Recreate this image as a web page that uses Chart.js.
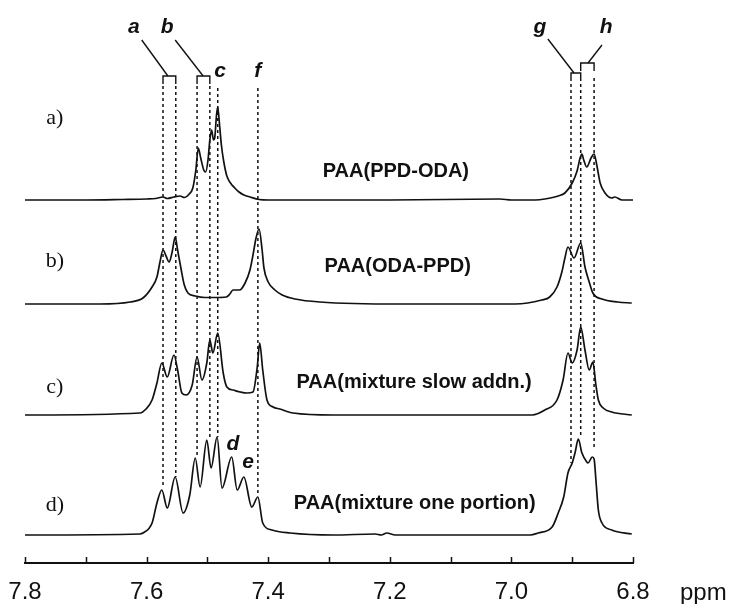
<!DOCTYPE html>
<html>
<head>
<meta charset="utf-8">
<script src="https://cdn.jsdelivr.net/npm/chart.js@4.4.0/dist/chart.umd.min.js"></script>
<style>
  html, body { margin: 0; padding: 0; background: #fff; }
</style>
</head>
<body>
<canvas id="nmr" width="729" height="604"></canvas>
<script>
// 1H NMR spectra, aromatic region (ppm vs. intensity)
const ppmA = [7.800, 7.700, 7.640, 7.600, 7.585, 7.573, 7.566, 7.555, 7.545, 7.538, 7.530, 7.524, 7.519, 7.515, 7.511, 7.506, 7.503, 7.499, 7.496, 7.493, 7.490, 7.488, 7.485, 7.483, 7.480, 7.477, 7.473, 7.468, 7.462, 7.455, 7.448, 7.440, 7.430, 7.415, 7.400, 7.200, 7.019, 7.000, 6.960, 6.945, 6.923, 6.912, 6.900, 6.892, 6.887, 6.884, 6.881, 6.876, 6.869, 6.864, 6.859, 6.854, 6.846, 6.835, 6.830, 6.818, 6.800];
const intA = [0, 0, 0.5, 1, 1.5, 3, 1.5, 3, 4, 2.5, 6, 12, 30, 52, 42, 30, 28, 40, 60, 70, 60, 62, 85, 93, 75, 55, 38, 24, 17, 12, 8, 5, 3, 0.5, 0, 0, 1, 0, 0, 1, 4, 7, 17, 29, 42, 46, 40, 33, 42, 46, 33, 17, 7, 2, 3, 0, 0];

const ppmB = [7.800, 7.677, 7.627, 7.606, 7.591, 7.583, 7.578, 7.573, 7.568, 7.563, 7.558, 7.553, 7.549, 7.543, 7.538, 7.532, 7.520, 7.504, 7.487, 7.469, 7.463, 7.458, 7.447, 7.438, 7.430, 7.425, 7.420, 7.415, 7.410, 7.407, 7.400, 7.389, 7.377, 7.356, 7.315, 7.183, 7.019, 6.994, 6.950, 6.937, 6.925, 6.917, 6.912, 6.907, 6.897, 6.886, 6.879, 6.872, 6.866, 6.851, 6.825, 6.802];
const intB = [0, 0, 2, 6, 17, 27, 42, 54, 48, 42, 52, 67, 54, 34, 19, 11, 8, 6.5, 6.5, 7, 10, 14, 14, 21, 34, 49, 66, 75, 54, 36, 22, 14, 9, 5, 2, 0, 0, 0, 4, 7, 17, 32, 46, 57, 46, 61, 37, 22, 11, 5, 2, 1];

const ppmC = [7.800, 7.611, 7.601, 7.591, 7.583, 7.575, 7.566, 7.555, 7.549, 7.542, 7.535, 7.525, 7.517, 7.509, 7.501, 7.496, 7.491, 7.483, 7.474, 7.468, 7.458, 7.446, 7.435, 7.425, 7.418, 7.414, 7.409, 7.402, 7.392, 7.381, 7.359, 7.293, 7.019, 6.966, 6.945, 6.925, 6.915, 6.907, 6.900, 6.892, 6.886, 6.879, 6.872, 6.866, 6.861, 6.857, 6.849, 6.835, 6.802];
const intC = [0, 2, 6, 15, 32, 52, 38, 60, 45, 22, 20, 30, 58, 35, 52, 75, 62, 82, 42, 28, 25, 23, 22, 23, 48, 72, 45, 15, 8, 6, 2, 0, 0, 0, 5, 15, 35, 62, 52, 65, 88, 65, 45, 53, 30, 15, 7, 3, 0];

const ppmD = [7.800, 7.611, 7.606, 7.591, 7.583, 7.575, 7.566, 7.553, 7.540, 7.529, 7.520, 7.512, 7.501, 7.494, 7.484, 7.476, 7.460, 7.451, 7.440, 7.427, 7.417, 7.409, 7.394, 7.364, 7.293, 7.224, 7.214, 7.205, 7.191, 6.969, 6.956, 6.933, 6.923, 6.914, 6.907, 6.900, 6.895, 6.890, 6.884, 6.876, 6.874, 6.867, 6.864, 6.861, 6.857, 6.851, 6.835, 6.802];
const intD = [0, 1, 2, 12, 32, 45, 27, 58, 22, 40, 77, 48, 95, 67, 98, 47, 78, 45, 58, 28, 38, 12, 5, 2, 0, 1, 0, 2, 0, 0, 2, 8, 22, 38, 62, 72, 83, 96, 82, 73, 72, 78, 76, 55, 25, 12, 5, 1];

const seriesTags = ['a)', 'b)', 'c)', 'd)'];
const seriesNames = ['PAA(PPD-ODA)', 'PAA(ODA-PPD)', 'PAA(mixture slow addn.)', 'PAA(mixture one portion)'];

// assignment guides (ppm) and the peak letters
const guidePpm = [7.573, 7.552, 7.517, 7.496, 7.483, 7.417, 6.902, 6.886, 6.864];
const peakTags = ['a', 'b', 'c', 'f', 'g', 'h', 'd', 'e'];

// layout: vertical stacking of the four traces, guide extents, label spots
const stackOffset = [363, 259, 148, 28];
const guideTop = [477, 477, 477, 477, 475, 475, 479, 479, 485];
const guideBottom = [75, 86, 105, 125, 126, 68, 100, 125, 113];
const brackets = [
  { from: 7.573, to: 7.552, top: 487, lead: [7.608, 523, 7.565, 487] },
  { from: 7.517, to: 7.496, top: 487, lead: [7.553, 523, 7.507, 487] },
  { from: 6.902, to: 6.886, top: 490, lead: [6.940, 524, 6.897, 490] },
  { from: 6.886, to: 6.864, top: 500, lead: [6.851, 518, 6.874, 500] },
];
const tagSpots = [[7.621, 530], [7.566, 530], [7.479, 486], [7.417, 486], [6.953, 530], [6.844, 530], [7.458, 113], [7.433, 95]];
const seriesTagSpots = [445, 302, 176, 58];
const nameSpots = [[7.190, 392], [7.187, 297], [7.160, 181], [7.159, 60]];

const SANS = '"Liberation Sans", Arial, sans-serif';
const INK = '#111';

const traces = [[ppmA, intA], [ppmB, intB], [ppmC, intC], [ppmD, intD]];

const datasets = traces.map(([ppm, inten], i) => ({
  data: ppm.map((p, k) => ({ x: p, y: stackOffset[i] + inten[k] })),
  borderColor: INK,
  borderWidth: 1.7,
  pointRadius: 0,
  cubicInterpolationMode: 'monotone',
  fill: false,
}));

guidePpm.forEach((p, i) => {
  datasets.push({
    data: [{ x: p, y: guideTop[i] }, { x: p, y: guideBottom[i] }],
    borderColor: INK,
    borderWidth: 1.5,
    borderDash: [3, 3],
    pointRadius: 0,
    fill: false,
  });
});

const annotate = {
  id: 'annotate',
  afterDraw(chart) {
    const { ctx } = chart;
    const xs = chart.scales.x;
    const ys = chart.scales.y;
    const X = (v) => xs.getPixelForValue(v);
    const Y = (v) => ys.getPixelForValue(v);
    ctx.save();
    ctx.strokeStyle = INK;
    ctx.fillStyle = INK;

    // axis ticks pointing up
    ctx.lineWidth = 1.5;
    xs.ticks.forEach((t) => {
      const px = Math.round(X(t.value)) + 0.5;
      ctx.beginPath();
      ctx.moveTo(px, xs.top);
      ctx.lineTo(px, xs.top - 6);
      ctx.stroke();
    });

    // brackets and leader lines
    ctx.lineWidth = 1.4;
    brackets.forEach((b) => {
      const top = Y(b.top);
      ctx.beginPath();
      ctx.moveTo(X(b.from), top + 8);
      ctx.lineTo(X(b.from), top);
      ctx.lineTo(X(b.to), top);
      ctx.lineTo(X(b.to), top + 8);
      ctx.stroke();
      ctx.beginPath();
      ctx.moveTo(X(b.lead[0]), Y(b.lead[1]));
      ctx.lineTo(X(b.lead[2]), Y(b.lead[3]));
      ctx.stroke();
    });

    // peak letters
    ctx.font = 'italic bold 21px ' + SANS;
    ctx.textAlign = 'center';
    ctx.textBaseline = 'alphabetic';
    peakTags.forEach((t, i) => {
      ctx.fillText(t, X(tagSpots[i][0]), Y(tagSpots[i][1]));
    });

    // trace labels
    ctx.textBaseline = 'middle';
    ctx.font = '22px "Liberation Serif", "Times New Roman", serif';
    seriesTags.forEach((t, i) => {
      ctx.fillText(t, X(7.751), Y(seriesTagSpots[i]));
    });
    ctx.font = 'bold 20px ' + SANS;
    seriesNames.forEach((t, i) => {
      ctx.fillText(t, X(nameSpots[i][0]), Y(nameSpots[i][1]));
    });

    // unit
    ctx.font = '24px ' + SANS;
    ctx.textAlign = 'left';
    ctx.textBaseline = 'alphabetic';
    ctx.fillText('ppm', xs.right + 47, 600);
    ctx.restore();
  },
};

new Chart(document.getElementById('nmr'), {
  type: 'line',
  data: { datasets: datasets },
  options: {
    responsive: false,
    animation: false,
    events: [],
    // the tick label box is taller than the space under the axis, so let it hang below
    layout: { padding: { left: 25, right: 96, top: 0, bottom: -17 } },
    plugins: { legend: { display: false }, tooltip: { enabled: false } },
    scales: {
      x: {
        type: 'linear',
        reverse: true,
        min: 6.8,
        max: 7.8,
        grid: { display: false, drawTicks: false },
        border: { display: true, color: INK, width: 2 },
        ticks: {
          stepSize: 0.1,
          autoSkip: false,
          maxRotation: 0,
          padding: 4,
          color: INK,
          font: { family: SANS, size: 24, lineHeight: 50 / 24 },
          callback: (v) => {
            const r = Math.round(v * 10);
            return r % 2 === 0 ? (r / 10).toFixed(1) : '';
          },
        },
      },
      y: {
        display: false,
        min: 0,
        max: 563,
      },
    },
  },
  plugins: [annotate],
});
</script>
</body>
</html>
